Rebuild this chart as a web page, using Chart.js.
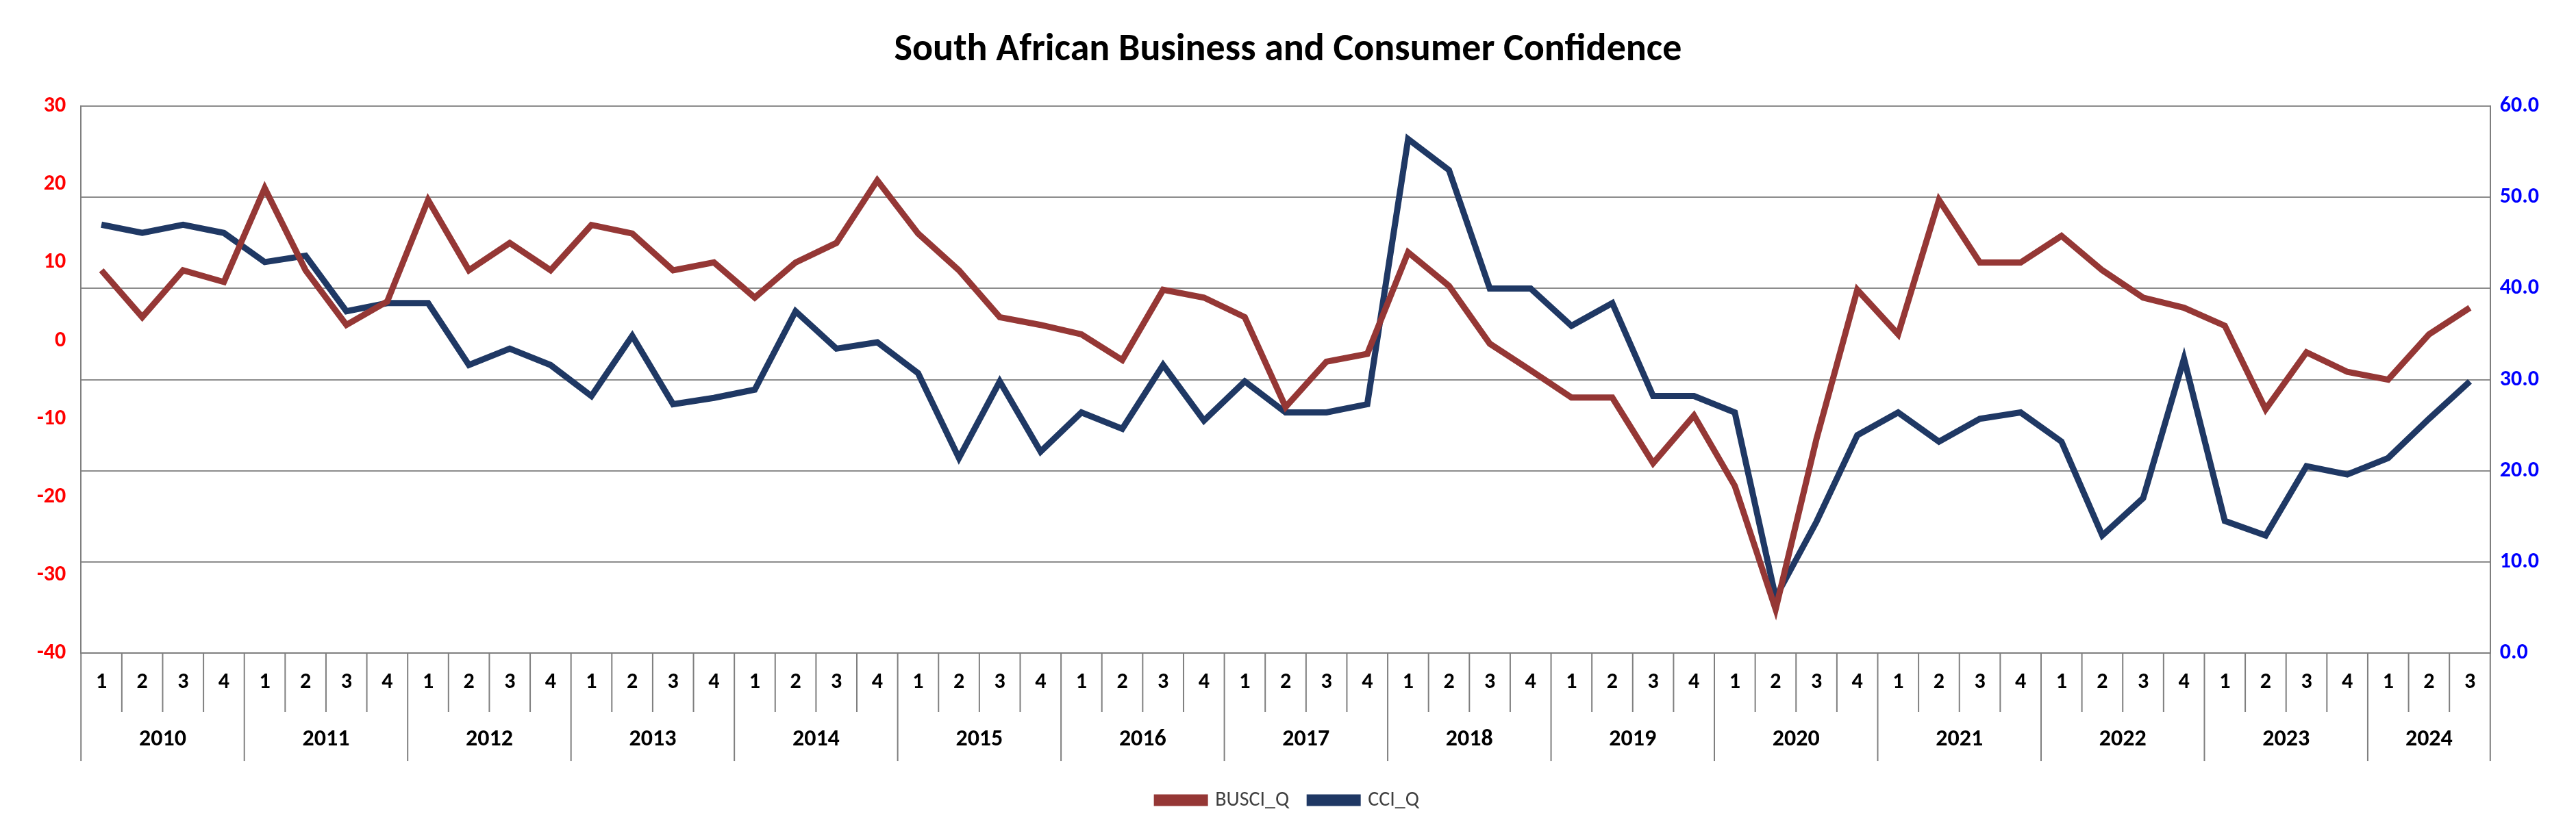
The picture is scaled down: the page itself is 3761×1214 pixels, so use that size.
<!DOCTYPE html>
<html><head><meta charset="utf-8">
<script src="https://cdn.jsdelivr.net/npm/chart.js@4"></script>
<style>html,body{margin:0;padding:0;background:#fff}</style>
</head><body><canvas id="c" width="3761" height="1214" style="width:3761px;height:1214px"></canvas>
<script>
const years = ['2010','2011','2012','2013','2014','2015','2016','2017','2018','2019','2020','2021','2022','2023','2024'];
const quarters = ['1','2','3','4','1','2','3','4','1','2','3','4','1','2','3','4','1','2','3','4','1','2','3','4','1','2','3','4','1','2','3','4','1','2','3','4','1','2','3','4','1','2','3','4','1','2','3','4','1','2','3','4','1','2','3','4','1','2','3'];
const busci = [9,3,9,7.5, 19.5,9,2,5, 18,9,12.5,9, 14.8,13.7,9,10, 5.5,10,12.5,20.5, 13.7,9,3,2, 0.8,-2.5,6.5,5.5, 3,-8.5,-2.7,-1.7, 11.3,7,-0.4,-3.8, -7.3,-7.3,-15.7,-9.6, -18.6,-34.4,-12.6,6.5, 0.8,18,10,10, 13.4,9,5.5,4.2, 1.9,-8.8,-1.5,-4, -5,0.8,4.2];
const cci = [47,46.1,47,46.1, 42.9,43.6,37.5,38.4, 38.4,31.6,33.4,31.6, 28.2,34.8,27.3,28, 28.9,37.5,33.4,34.1, 30.7,21.4,29.8,22.1, 26.4,24.6,31.6,25.5, 29.8,26.4,26.4,27.3, 56.4,53,40,40, 35.9,38.4,28.2,28.2, 26.4,6.1,14.4,23.9, 26.4,23.2,25.7,26.4, 23.2,12.9,17,32.3, 14.5,12.9,20.5,19.6, 21.4,25.7,29.8];
const FONT = 'Calibri, Carlito, "Liberation Sans", Arial, sans-serif';
const boxPlugin = {
  id:'box',
  afterDraw(chart){
    const ctx=chart.ctx, x=chart.scales.x, ca=chart.chartArea;
    const n=quarters.length;
    const step=(x.getPixelForValue(1)-x.getPixelForValue(0));
    ctx.save();
    ctx.strokeStyle='#7f7f7f'; ctx.lineWidth=2;
    const rowH=86, yearH=72;
    for(let i=0;i<=n;i++){
      const px = i<n ? x.getPixelForValue(i)-step/2 : x.getPixelForValue(n-1)+step/2;
      const isYear = (i%4===0)||i===n;
      ctx.beginPath(); ctx.moveTo(px,ca.bottom); ctx.lineTo(px,ca.bottom+rowH+(isYear?yearH:0)); ctx.stroke();
    }
    ctx.fillStyle='#000'; ctx.font='bold 34px '+FONT; ctx.textAlign='center'; ctx.textBaseline='middle';
    years.forEach((y,k)=>{
      const a=k*4, b=Math.min(k*4+3,n-1);
      const cx=(x.getPixelForValue(a)+x.getPixelForValue(b))/2;
      ctx.fillText(y,cx,ca.bottom+rowH+yearH/2+4);
    });
    ctx.restore();
  }
};
new Chart(document.getElementById('c'),{
  type:'line',
  data:{labels:quarters,datasets:[
    {label:'BUSCI_Q',data:busci,yAxisID:'yL',borderColor:'#953735',backgroundColor:'#953735',borderWidth:9,pointRadius:0,tension:0},
    {label:'CCI_Q',data:cci,yAxisID:'yR',borderColor:'#1F3864',backgroundColor:'#1F3864',borderWidth:9,pointRadius:0,tension:0}
  ]},
  plugins:[boxPlugin],
  options:{
    responsive:false,animation:false,devicePixelRatio:1,
    layout:{padding:{left:40,right:40,top:10,bottom:20}},
    plugins:{
      title:{display:true,text:'South African Business and Consumer Confidence',font:{family:FONT,size:56,weight:'bold'},color:'#000',padding:{top:30,bottom:48}},
      legend:{position:'bottom',labels:{font:{family:FONT,size:30},color:'#404040',boxWidth:70,boxHeight:8,padding:30}}
    },
    scales:{
      x:{offset:true,grid:{display:false,drawTicks:false},border:{color:'#7f7f7f',width:2},
         ticks:{font:{family:FONT,size:32,weight:'bold'},color:'#000',autoSkip:false,maxRotation:0,padding:24},
         afterFit(s){s.height=170;}},
      yL:{position:'left',min:-40,max:30,ticks:{stepSize:10,font:{family:FONT,size:32,weight:'bold'},color:'#FF0000',padding:14},grid:{display:false},border:{color:'#7f7f7f',width:2}},
      yR:{position:'right',min:0,max:60,ticks:{stepSize:10,callback:v=>v.toFixed(1),font:{family:FONT,size:32,weight:'bold'},color:'#0000FF',padding:14},grid:{color:'#8c8c8c',lineWidth:2,drawTicks:false},border:{color:'#7f7f7f',width:2}}
    }
  }
});
</script></body></html>
